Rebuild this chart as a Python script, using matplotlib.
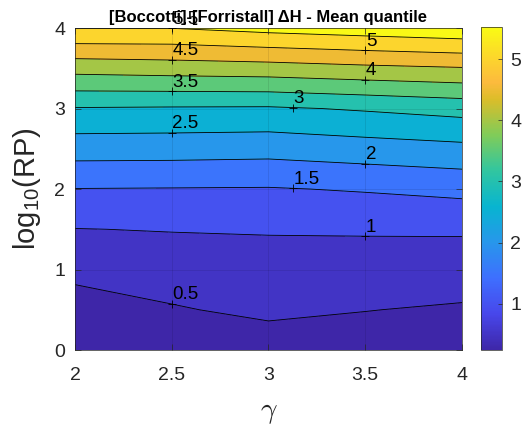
import numpy as np
import matplotlib
matplotlib.use('Agg')
import matplotlib.pyplot as plt
from matplotlib.colors import LinearSegmentedColormap, Normalize
from matplotlib.cm import ScalarMappable

plt.rcParams['font.family'] = 'Liberation Sans'
plt.rcParams['mathtext.fontset'] = 'custom'
plt.rcParams['mathtext.rm'] = 'Liberation Sans'
plt.rcParams['mathtext.it'] = 'Liberation Sans:italic'

# Peak enhancement factor (columns) and log10 of return period (rows)
GAMMA = [2.0, 2.5, 3.0, 3.5, 4.0]
LOG_RP = [0.0, 0.5, 1.0, 1.5, 2.0, 2.5, 3.0, 3.5, 4.0]
# Mean-quantile difference in H, Boccotti minus Forristall
DELTA_H = [
    [0.30, 0.27, 0.24, 0.28, 0.32],
    [0.40, 0.46, 0.60, 0.51, 0.45],
    [0.56, 0.74, 0.77, 0.76, 0.73],
    [0.99, 1.02, 1.04, 1.05, 1.06],
    [1.49, 1.48, 1.47, 1.54, 1.64],
    [2.22, 2.21, 2.18, 2.28, 2.37],
    [2.97, 2.95, 2.94, 3.05, 3.18],
    [4.18, 4.24, 4.29, 4.39, 4.47],
    [5.52, 5.51, 5.66, 5.77, 5.88],
]
LEVELS = [0.5, 1.0, 1.5, 2.0, 2.5, 3.0, 3.5, 4.0, 4.5, 5.0, 5.5]
LEVEL_TEXT = ['0.5', '1', '1.5', '2', '2.5', '3', '3.5', '4', '4.5', '5', '5.5']
# gamma at which each contour gets its inline label
LABEL_GAMMA = [2.5, 3.5, 3.127, 3.5, 2.5, 3.127, 2.5, 3.5, 2.5, 3.5, 2.5]
CBAR_TICKS = [1, 2, 3, 4, 5]
CLIM = (0.24, 5.53)

# MATLAB parula
PARULA = [
    (0.000, (0.2422, 0.1504, 0.6603)),
    (0.111, (0.2803, 0.2782, 0.9221)),
    (0.222, (0.2440, 0.4358, 0.9988)),
    (0.333, (0.1540, 0.5902, 0.9218)),
    (0.444, (0.0297, 0.7082, 0.8163)),
    (0.556, (0.1938, 0.7758, 0.6251)),
    (0.667, (0.5044, 0.7993, 0.3480)),
    (0.778, (0.8634, 0.7406, 0.1596)),
    (0.830, (0.9900, 0.7300, 0.2400)),
    (0.889, (0.9892, 0.8136, 0.1885)),
    (1.000, (0.9769, 0.9839, 0.0805)),
]
parula = LinearSegmentedColormap.from_list('parula', PARULA, N=256)
norm = Normalize(*CLIM)

gray = '#262626'
fig = plt.figure(figsize=(5.24, 4.29), dpi=100)
ax = fig.add_axes([0.1431, 0.1841, 0.7386, 0.7506])
cax = fig.add_axes([0.918, 0.1841, 0.040, 0.7530])

X, Y = np.meshgrid(GAMMA, LOG_RP)
Z = np.array(DELTA_H)

# each band takes the colour of its lower level
bounds = [0.0] + LEVELS + [6.5]
band_colors = [parula(norm(max(lo, CLIM[0]))) for lo in bounds[:-1]]
ax.contourf(X, Y, Z, levels=bounds, colors=band_colors)
ax.contour(X, Y, Z, levels=LEVELS, colors='k', linewidths=0.6)

# '+' marks with the level written beside them
for lev, txt, g in zip(LEVELS, LEVEL_TEXT, LABEL_GAMMA):
    j = min(np.searchsorted(GAMMA, g, side='right') - 1, len(GAMMA) - 2)
    t = (g - GAMMA[j]) / (GAMMA[j + 1] - GAMMA[j])
    col = Z[:, j] * (1 - t) + Z[:, j + 1] * t
    y = np.interp(lev, col, LOG_RP)
    ax.plot(g, y, marker='+', color='k', ms=6, mew=0.6, zorder=4)
    ax.annotate(txt, (g, y), xytext=(0.5, 0.5), textcoords='offset points',
                ha='left', va='bottom', fontsize=13.5, zorder=5,
                annotation_clip=False)

ax.set_xlim(2, 4)
ax.set_ylim(0, 4)
ax.set_xticks([2, 2.5, 3, 3.5, 4])
ax.set_xticklabels(['2', '2.5', '3', '3.5', '4'])
ax.set_yticks([0, 1, 2, 3, 4])
ax.grid(True, color='k', alpha=0.12, lw=0.5)
ax.set_axisbelow(False)
ax.tick_params(direction='in', length=4, width=0.5, colors=gray,
               labelsize=14, top=True, right=True)
ax.tick_params(axis='x', pad=12.5)
ax.tick_params(axis='y', pad=7)
for sp in ax.spines.values():
    sp.set_linewidth(0.5)
    sp.set_color(gray)

ax.set_xlabel(r'$\gamma$', fontsize=21, color=gray, math_fontfamily='cm',
              labelpad=10)
ax.set_ylabel(r'log$_{10}$(RP)', fontsize=21, color=gray, labelpad=8)
ax.set_title('[Boccotti]-[Forristall] ΔH - Mean quantile', fontsize=12,
             fontweight='bold', pad=4.5)

cb = fig.colorbar(ScalarMappable(norm=norm, cmap=parula), cax=cax,
                  ticks=CBAR_TICKS)
cb.outline.set_linewidth(0.5)
cb.outline.set_edgecolor(gray)
cax.tick_params(direction='in', length=3, width=0.5, colors=gray,
                labelsize=14, pad=6)

fig.savefig('out.png', dpi=100)
